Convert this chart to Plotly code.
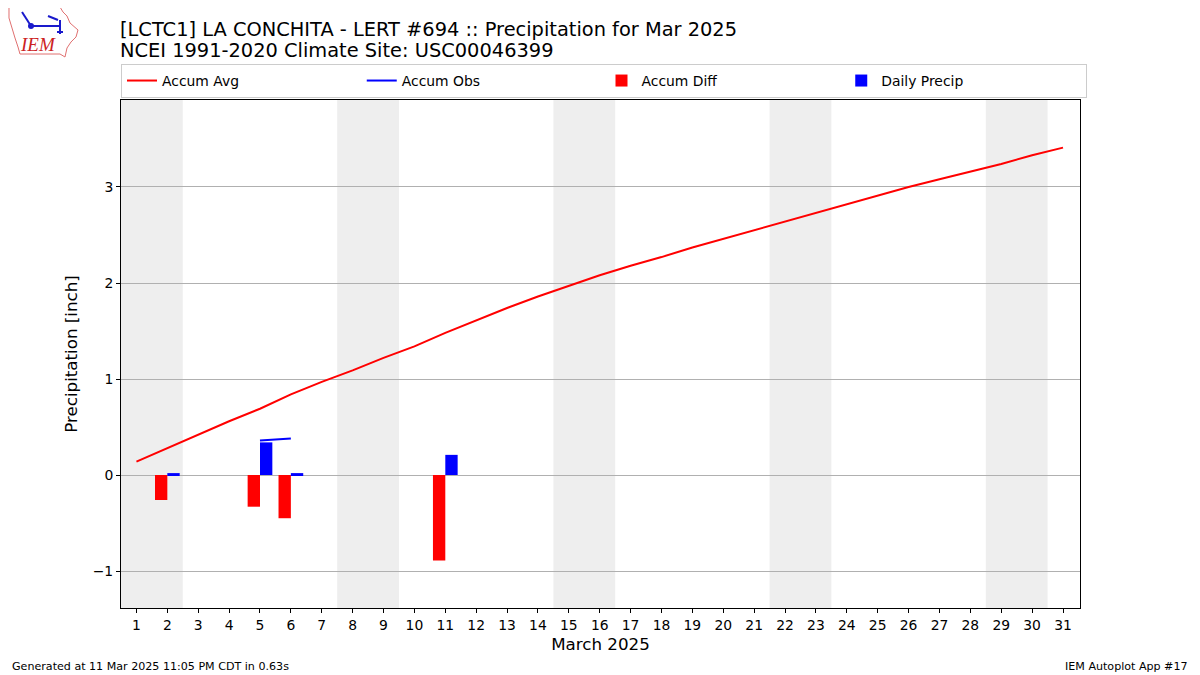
import plotly.graph_objects as go

days = list(range(1, 32))
accum_avg = [0.14, 0.28, 0.42, 0.56, 0.69, 0.84, 0.97, 1.09, 1.22, 1.34,
             1.48, 1.61, 1.74, 1.86, 1.97, 2.08, 2.18, 2.27, 2.37, 2.46,
             2.55, 2.64, 2.73, 2.82, 2.91, 3.00, 3.08, 3.16, 3.24, 3.33, 3.41]
accum_obs = [None, 0.02, None, None, 0.36, 0.38, None, None, None, None,
             0.59] + [None] * 20
accum_diff = [None, -0.26, None, None, -0.33, -0.45, None, None, None, None,
              -0.89] + [None] * 20
daily_precip = [None, 0.02, None, None, 0.34, 0.02, None, None, None, None,
                0.21] + [None] * 20
weekend_starts = [1, 8, 15, 22, 29]
xtick_vals = days
ytick_vals = [-1, 0, 1, 2, 3]
ytick_text = ["\u22121", "0", "1", "2", "3"]

FONT = "DejaVu Sans"

# page has an 8px body margin; plot area targeted at screen x 121..1080, y 100..608
OFF = 8
PL, PR, PT, PB = 121, 1080, 100, 608
PW, PH = PR - PL, PB - PT


def px(x):
    return (x - PL) / PW


def py(y):
    return (PB - y) / PH


fig = go.Figure()
fig.add_trace(go.Scatter(x=days, y=accum_avg, mode="lines", name="Accum Avg",
                         line=dict(color="red", width=2)))
fig.add_trace(go.Scatter(x=days, y=accum_obs, mode="lines", name="Accum Obs",
                         line=dict(color="blue", width=2), connectgaps=False))
fig.add_trace(go.Bar(x=days, y=accum_diff, name="Accum Diff", marker_color="red",
                     marker_line_width=0, width=0.4, offset=-0.4))
fig.add_trace(go.Bar(x=days, y=daily_precip, name="Daily Precip", marker_color="blue",
                     marker_line_width=0, width=0.4, offset=0))

shapes = []
for s in weekend_starts:
    shapes.append(dict(type="rect", xref="x", yref="paper", x0=s - 0.5, x1=s + 1.5,
                       y0=0, y1=1, fillcolor="#eeeeee", line_width=0, layer="below"))

# rough logo outline (state shape) and glyph lines
outline = [(9, 7), (60, 7), (63, 12), (67, 16), (70, 23), (78, 30), (76, 37),
           (71, 42), (67, 48), (65, 57), (60, 54), (20, 54), (18, 47), (15, 38),
           (12, 28), (9, 18)]
path = "M " + " L ".join(f"{px(a):.5f},{py(b):.5f}" for a, b in outline) + " Z"
shapes.append(dict(type="path", xref="paper", yref="paper", path=path,
                   line=dict(color="#e07070", width=1), layer="above"))
for (a, b, c, d) in [(31, 26, 60, 26), (22, 12, 31, 26), (48, 16, 58, 20),
                     (60, 20, 60, 34), (57, 32, 63, 32)]:
    shapes.append(dict(type="line", xref="paper", yref="paper",
                       x0=px(a), y0=py(b), x1=px(c), y1=py(d),
                       line=dict(color="#1a1acc", width=2), layer="above"))
shapes.append(dict(type="circle", xref="paper", yref="paper",
                   x0=px(28), y0=py(29), x1=px(34), y1=py(23),
                   fillcolor="#1a1acc", line_width=0, layer="above"))

fig.update_layout(
    width=1200 - OFF, height=675 - OFF,
    paper_bgcolor="white", plot_bgcolor="white",
    font=dict(family=FONT, size=13.9, color="black"),
    margin=dict(l=PL - OFF, r=1200 - PR, t=PT - OFF, b=675 - PB, autoexpand=False),
    barmode="overlay",
    shapes=shapes,
    showlegend=True,
    legend=dict(orientation="h", x=0, xanchor="left", y=1 + 2 / PH, yanchor="bottom",
                bordercolor="#cccccc", borderwidth=1, bgcolor="white",
                entrywidth=0.25, entrywidthmode="fraction",
                font=dict(size=13.9), traceorder="normal"),
    xaxis=dict(range=[0.5, 31.55], tickmode="array", tickvals=xtick_vals,
               showgrid=False, zeroline=False, showline=True, linecolor="black",
               mirror=True, ticks="outside", ticklen=4, tickcolor="black",
               title=dict(text="March 2025", font=dict(size=16.7), standoff=6)),
    yaxis=dict(range=[-1.385, 3.906], tickmode="array", tickvals=ytick_vals,
               ticktext=ytick_text, showgrid=True, gridcolor="#b0b0b0",
               zeroline=False, showline=True, linecolor="black", mirror=True,
               ticks="outside", ticklen=4, tickcolor="black",
               title=dict(text="Precipitation [inch]", font=dict(size=16.7), standoff=10)),
)

fig.add_annotation(text="[LCTC1] LA CONCHITA - LERT #694 :: Precipitation for Mar 2025",
                   xref="paper", yref="paper", x=px(118), y=py(29),
                   xanchor="left", yanchor="middle", align="left", showarrow=False,
                   font=dict(size=19.4, family=FONT))
fig.add_annotation(text="NCEI 1991-2020 Climate Site: USC00046399",
                   xref="paper", yref="paper", x=px(118), y=py(51),
                   xanchor="left", yanchor="middle", align="left", showarrow=False,
                   font=dict(size=19.4, family=FONT))
fig.add_annotation(text="Generated at 11 Mar 2025 11:05 PM CDT in 0.63s",
                   xref="paper", yref="paper", x=px(10), y=py(666),
                   xanchor="left", yanchor="middle", showarrow=False,
                   font=dict(size=11.1, family=FONT))
fig.add_annotation(text="IEM Autoplot App #17",
                   xref="paper", yref="paper", x=px(1190), y=py(666),
                   xanchor="right", yanchor="middle", showarrow=False,
                   font=dict(size=11.1, family=FONT))
fig.add_annotation(text="<i>IEM</i>", xref="paper", yref="paper",
                   x=px(38), y=py(45), xanchor="center", yanchor="middle",
                   showarrow=False,
                   font=dict(size=19, family="Liberation Serif", color="#cc2222"))

fig.write_html("out.html")
